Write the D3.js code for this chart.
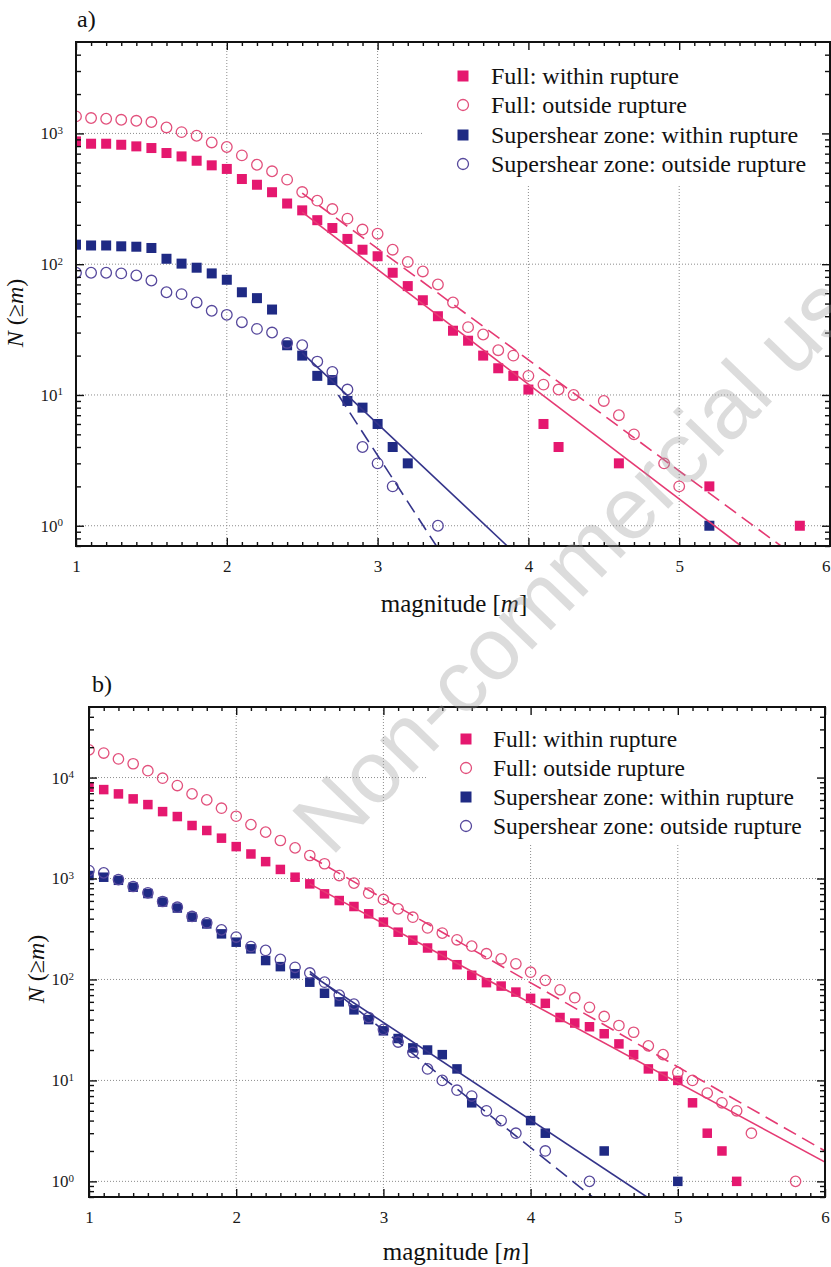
<!DOCTYPE html>
<html><head><meta charset="utf-8">
<script src="https://cdn.jsdelivr.net/npm/d3@7"></script>
<style>
body{margin:0;background:#fff}
.tick text{font-family:'Liberation Serif','Times New Roman',serif;font-size:17px;fill:#1a1a1a}
.tick text tspan.sup{font-size:11px}
</style>
</head><body><svg id="c" width="831" height="1267"></svg>
<script>
// ---------- DATA ----------
const xTickLabels = [1, 2, 3, 4, 5, 6];
const yTickExpA = [0, 1, 2, 3];
const yTickExpB = [0, 1, 2, 3, 4];
const legendLabels = ["Full: within rupture", "Full: outside rupture",
  "Supershear zone: within rupture", "Supershear zone: outside rupture"];

// Panel a
const aFullInM = [1.0,1.1,1.2,1.3,1.4,1.5,1.6,1.7,1.8,1.9,2.0,2.1,2.2,2.3,2.4,2.5,2.6,2.7,2.8,2.9,3.0,3.1,3.2,3.3,3.4,3.5,3.6,3.7,3.8,3.9,4.0,4.1,4.2,4.6,5.2,5.8];
const aFullInN = [869,834,834,819,796,773,708,667,618,570,535,448,405,355,291,258,217,189,156,129,115,86,68,53,40,31,26,20,16,14,11,6,4,3,2,1];
const aFullOutM = [1.0,1.1,1.2,1.3,1.4,1.5,1.6,1.7,1.8,1.9,2.0,2.1,2.2,2.3,2.4,2.5,2.6,2.7,2.8,2.9,3.0,3.1,3.2,3.3,3.4,3.5,3.6,3.7,3.8,3.9,4.0,4.1,4.2,4.3,4.5,4.6,4.7,4.9,5.0];
const aFullOutN = [1349,1310,1294,1271,1249,1221,1111,1023,960,853,787,679,576,513,443,356,306,264,223,184,171,129,104,88,70,51,33,29,22,20,14,12,11,10,9,7,5,3,2];
const aSsInM = [1.0,1.1,1.2,1.3,1.4,1.5,1.6,1.7,1.8,1.9,2.0,2.1,2.2,2.3,2.4,2.5,2.6,2.7,2.8,2.9,3.0,3.1,3.2,5.2];
const aSsInN = [141,139,139,137,136,133,110,101,94,85,76,61,55,45,24,20,14,13,9,8,6,4,3,1];
const aSsOutM = [1.0,1.1,1.2,1.3,1.4,1.5,1.6,1.7,1.8,1.9,2.0,2.1,2.2,2.3,2.4,2.5,2.6,2.7,2.8,2.9,3.0,3.1,3.4];
const aSsOutN = [86,86,86,85,82,75,61,59,51,44,41,36,32,30,25,24,18,15,11,4,3,2,1];
// fit lines panel a: [start m, end m], [start N, end N]
const aFitFullInM = [2.5, 5.41], aFitFullInN = [250, 0.7];
const aFitFullOutM = [2.5, 5.675], aFitFullOutN = [350, 0.7];
const aFitSsInM = [2.5, 3.86], aFitSsInN = [21, 0.7];
const aFitSsOutM = [2.74, 3.39], aFitSsOutN = [10, 0.7];

// Panel b
const bFullInM = [1.0,1.1,1.2,1.3,1.4,1.5,1.6,1.7,1.8,1.9,2.0,2.1,2.2,2.3,2.4,2.5,2.6,2.7,2.8,2.9,3.0,3.1,3.2,3.3,3.4,3.5,3.6,3.7,3.8,3.9,4.0,4.1,4.2,4.3,4.4,4.5,4.6,4.7,4.8,4.9,5.0,5.1,5.2,5.3,5.4];
const bFullInN = [8020,7600,6890,6150,5400,4600,4110,3350,2990,2510,2070,1750,1470,1230,1030,885,705,605,528,447,370,294,245,205,173,140,110,93,86,75,65,58,42,37,34,29,23,18,13,11,10,6,3,2,1];
const bFullOutM = [1.0,1.1,1.2,1.3,1.4,1.5,1.6,1.7,1.8,1.9,2.0,2.1,2.2,2.3,2.4,2.5,2.6,2.7,2.8,2.9,3.0,3.1,3.2,3.3,3.4,3.5,3.6,3.7,3.8,3.9,4.0,4.1,4.2,4.3,4.4,4.5,4.6,4.7,4.8,4.9,5.0,5.1,5.2,5.3,5.4,5.5,5.8];
const bFullOutN = [18800,17500,15300,13700,11700,9850,8330,6890,6010,4970,4140,3420,2880,2380,2010,1690,1400,1070,900,716,620,500,414,324,288,247,214,180,160,143,118,98,79,66,53,43,35,30,22,18,12,10,7.5,6,5,3,1];
const bSsInM = [1.0,1.1,1.2,1.3,1.4,1.5,1.6,1.7,1.8,1.9,2.0,2.1,2.2,2.3,2.4,2.5,2.6,2.7,2.8,2.9,3.0,3.1,3.2,3.3,3.4,3.5,3.6,4.0,4.1,4.5,5.0];
const bSsInN = [1071,1030,960,820,710,585,510,415,355,283,234,201,154,134,114,94,73,60,50,40,31,26,21,20,18,13,6,4,3,2,1];
const bSsOutM = [1.0,1.1,1.2,1.3,1.4,1.5,1.6,1.7,1.8,1.9,2.0,2.1,2.2,2.3,2.4,2.5,2.6,2.7,2.8,2.9,3.0,3.1,3.2,3.3,3.4,3.5,3.6,3.7,3.8,3.9,4.1,4.4];
const bSsOutN = [1200,1137,977,833,722,592,520,421,364,310,263,212,194,158,132,116,94,70,57,42,32,24,19,13,10,8,7,5,4,3,2,1];
const bFitFullInM = [2.5, 6.0], bFitFullInN = [885, 1.55];
const bFitFullOutM = [2.5, 6.0], bFitFullOutN = [1650, 2.0];
const bFitSsInM = [2.5, 4.79], bFitSsInN = [114, 0.7];
const bFitSsOutM = [2.5, 4.42], bFitSsOutN = [120, 0.7];

// ---------- STYLE ----------
const PINK = "#e5186f", PINK_O = "#e2507c", NAVY = "#1f2a84", NAVY_O = "#56489c";
const PINK_L = "#e53a73", NAVY_L = "#34348a";
const SERIF = "'Liberation Serif','Times New Roman',serif";

const svg = d3.select("#c");
svg.append("rect").attr("width", 831).attr("height", 1267).attr("fill", "#fff");

const zip = (m, n) => m.map((v, i) => ({m: v, n: n[i]}));

function panel(p) {
  const g = svg.append("g");
  const x = d3.scaleLinear().domain([1, 6]).range([p.left, p.right]);
  const y = d3.scaleLog().domain(p.yDomain).range([p.bottom, p.top]);
  const clipId = "clip" + p.label[0];
  g.append("clipPath").attr("id", clipId).append("rect")
    .attr("x", p.left).attr("y", p.top).attr("width", p.right - p.left).attr("height", p.bottom - p.top);

  // grid
  const grid = g.append("g").attr("stroke", "#8c8c8c").attr("stroke-width", 1).attr("stroke-dasharray", "1,2");
  grid.selectAll(null).data(xTickLabels.slice(1, -1)).enter().append("line")
    .attr("x1", d => x(d)).attr("x2", d => x(d)).attr("y1", p.top).attr("y2", p.bottom);
  grid.selectAll(null).data(p.exps.map(e => Math.pow(10, e))).enter().append("line")
    .attr("x1", p.left).attr("x2", p.right).attr("y1", d => y(d)).attr("y2", d => y(d));

  // legend background
  g.append("rect").attr("x", p.legX).attr("y", p.top + 1)
    .attr("width", p.right - p.legX - 1).attr("height", p.legBottom - p.top).attr("fill", "#fff");

  // points
  const pts = g.append("g").attr("clip-path", `url(#${clipId})`);
  const squares = (data, color) => pts.append("g").selectAll("rect").data(data).enter().append("rect")
    .attr("x", d => x(d.m) - p.sq / 2).attr("y", d => y(d.n) - p.sq / 2)
    .attr("width", p.sq).attr("height", p.sq).attr("fill", color);
  const circles = (data, color) => pts.append("g").selectAll("circle").data(data).enter().append("circle")
    .attr("cx", d => x(d.m)).attr("cy", d => y(d.n)).attr("r", p.r)
    .attr("fill", "none").attr("stroke", color).attr("stroke-width", 1.3);
  squares(p.ssIn, NAVY);
  circles(p.ssOut, NAVY_O);
  squares(p.fullIn, PINK);
  circles(p.fullOut, PINK_O);

  // fit lines
  const line = d3.line().x(d => x(d.m)).y(d => y(d.n));
  p.fits.forEach(f => {
    pts.append("path").datum(f.data).attr("d", line).attr("fill", "none")
      .attr("stroke", f.color).attr("stroke-width", 1.6)
      .attr("stroke-dasharray", f.dash ? "14,7" : null);
  });

  // axes
  const minorX = d3.range(10, 61).filter(v => v % 10 !== 0).map(v => v / 10);
  const minorY = [];
  for (let e = -1; e <= 5; e++) for (let k = 2; k <= 9; k++) {
    const v = k * Math.pow(10, e);
    if (v > p.yDomain[0] && v < p.yDomain[1]) minorY.push(v);
  }
  const majorY = p.exps.map(e => Math.pow(10, e));
  const style = sel => {
    sel.select(".domain").remove();
    sel.selectAll(".tick line").attr("stroke", "#111").attr("stroke-width", 1.4);
    sel.attr("font-family", SERIF).attr("font-size", 17);
    return sel;
  };
  const bottom = style(g.append("g").attr("transform", `translate(0,${p.bottom})`)
    .call(d3.axisBottom(x).tickValues(xTickLabels).tickSize(-8).tickPadding(14).tickFormat(d3.format("d"))));
  if (p.lastAnchorEnd) bottom.selectAll(".tick text").filter(d => d === 6).attr("text-anchor", "end");
  style(g.append("g").attr("transform", `translate(0,${p.bottom})`)
    .call(d3.axisBottom(x).tickValues(minorX).tickSize(-4).tickFormat("")));
  style(g.append("g").attr("transform", `translate(0,${p.top})`)
    .call(d3.axisTop(x).tickValues(xTickLabels).tickSize(-8).tickFormat("")));
  style(g.append("g").attr("transform", `translate(0,${p.top})`)
    .call(d3.axisTop(x).tickValues(minorX).tickSize(-4).tickFormat("")));
  const left = style(g.append("g").attr("transform", `translate(${p.left},0)`)
    .call(d3.axisLeft(y).tickValues(majorY).tickSize(-8).tickPadding(p.yPad).tickFormat(() => "")));
  left.selectAll(".tick text").each(function (d) {
    const t = d3.select(this);
    t.append("tspan").text("10");
    t.append("tspan").attr("class", "sup").attr("dy", "-0.5em").text(Math.round(Math.log10(d)));
  });
  style(g.append("g").attr("transform", `translate(${p.left},0)`)
    .call(d3.axisLeft(y).tickValues(minorY).tickSize(-5).tickFormat("")));
  style(g.append("g").attr("transform", `translate(${p.right},0)`)
    .call(d3.axisRight(y).tickValues(majorY).tickSize(-8).tickFormat("")));
  style(g.append("g").attr("transform", `translate(${p.right},0)`)
    .call(d3.axisRight(y).tickValues(minorY).tickSize(-5).tickFormat("")));

  // frame
  g.append("rect").attr("x", p.left).attr("y", p.top).attr("width", p.right - p.left)
    .attr("height", p.bottom - p.top).attr("fill", "none").attr("stroke", "#111").attr("stroke-width", 2);

  // legend
  const lg = g.append("g");
  legendLabels.forEach((lab, i) => {
    const cy = p.legRows[i];
    if (i % 2 === 0) {
      lg.append("rect").attr("x", p.legMarkX - 5.5).attr("y", cy - 5.5).attr("width", 11).attr("height", 11)
        .attr("fill", i === 0 ? PINK : NAVY);
    } else {
      lg.append("circle").attr("cx", p.legMarkX).attr("cy", cy).attr("r", 5.5).attr("fill", "none")
        .attr("stroke", i === 1 ? PINK_O : NAVY_O).attr("stroke-width", 1.3);
    }
    lg.append("text").attr("x", p.legTextX).attr("y", cy + 8).attr("font-family", SERIF)
      .attr("font-size", p.legFont).attr("fill", "#111").text(lab);
  });

  // labels
  g.append("text").attr("x", p.labelX).attr("y", p.labelY).attr("font-family", SERIF)
    .attr("font-size", 24).attr("fill", "#111").text(p.label);
  const xl = g.append("text").attr("x", p.xLabelX).attr("y", p.xLabelY).attr("text-anchor", "middle")
    .attr("font-family", SERIF).attr("font-size", 25).attr("fill", "#111");
  xl.append("tspan").text("magnitude [");
  xl.append("tspan").attr("font-style", "italic").text("m");
  xl.append("tspan").text("]");
  const yl = g.append("text").attr("transform", `translate(${p.yLabelX},${p.yLabelY}) rotate(-90)`)
    .attr("text-anchor", "middle").attr("font-family", SERIF).attr("font-size", 24).attr("fill", "#111");
  yl.append("tspan").attr("font-style", "italic").text("N");
  yl.append("tspan").text(" (≥");
  yl.append("tspan").attr("font-style", "italic").text("m");
  yl.append("tspan").text(")");
}

panel({
  label: "a)", labelX: 77, labelY: 27, lastAnchorEnd: true,
  left: 76, right: 830, top: 42, bottom: 546, yDomain: [0.7, 5000], exps: yTickExpA, yPad: 13,
  legX: 423, legBottom: 183, legMarkX: 463, legTextX: 491, legRows: [76, 105, 135, 164], legFont: 24,
  xLabelX: 454, xLabelY: 612, yLabelX: 23, yLabelY: 313, sq: 10, r: 5.3,
  fullIn: zip(aFullInM, aFullInN), fullOut: zip(aFullOutM, aFullOutN),
  ssIn: zip(aSsInM, aSsInN), ssOut: zip(aSsOutM, aSsOutN),
  fits: [
    {data: zip(aFitFullInM, aFitFullInN), color: PINK_L, dash: false},
    {data: zip(aFitFullOutM, aFitFullOutN), color: PINK_L, dash: true},
    {data: zip(aFitSsInM, aFitSsInN), color: NAVY_L, dash: false},
    {data: zip(aFitSsOutM, aFitSsOutN), color: NAVY_L, dash: true}
  ]
});

panel({
  label: "b)", labelX: 92, labelY: 692, lastAnchorEnd: false,
  left: 89, right: 825, top: 707, bottom: 1197, yDomain: [0.7, 50000], exps: yTickExpB, yPad: 15,
  legX: 428, legBottom: 844, legMarkX: 466, legTextX: 493, legRows: [739, 768, 797, 826], legFont: 23.5,
  xLabelX: 456, xLabelY: 1260, yLabelX: 44, yLabelY: 969, sq: 9.5, r: 5.2,
  fullIn: zip(bFullInM, bFullInN), fullOut: zip(bFullOutM, bFullOutN),
  ssIn: zip(bSsInM, bSsInN), ssOut: zip(bSsOutM, bSsOutN),
  fits: [
    {data: zip(bFitFullInM, bFitFullInN), color: PINK_L, dash: false},
    {data: zip(bFitFullOutM, bFitFullOutN), color: PINK_L, dash: true},
    {data: zip(bFitSsInM, bFitSsInN), color: NAVY_L, dash: false},
    {data: zip(bFitSsOutM, bFitSsOutN), color: NAVY_L, dash: true}
  ]
});

// watermark
svg.append("text").attr("transform", "translate(331,858) rotate(-46)")
  .attr("font-family", "'Liberation Sans',Arial,sans-serif").attr("font-size", 88)
  .attr("fill", "#9a9a9a").attr("fill-opacity", 0.35).text("Non-commercial use");
</script>
</body></html>
